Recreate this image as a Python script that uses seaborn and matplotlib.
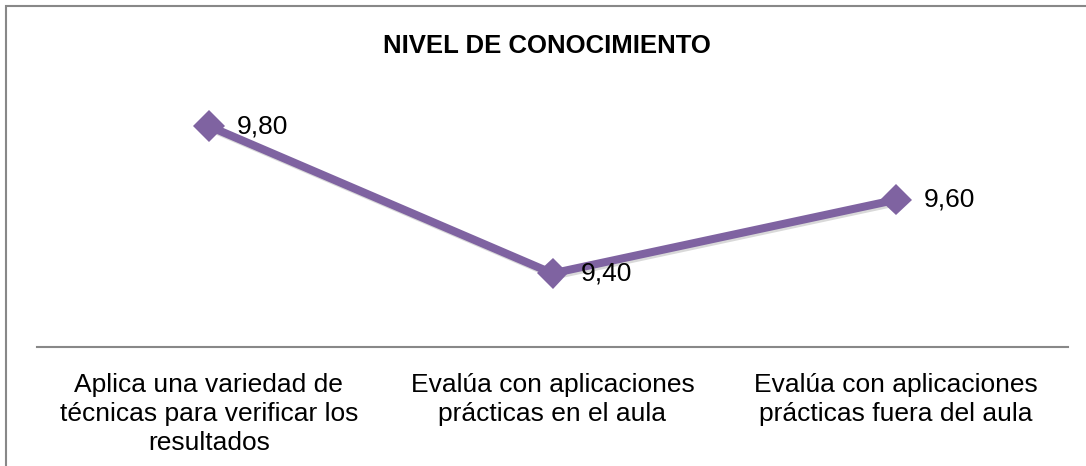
import matplotlib
matplotlib.use("Agg")
import matplotlib.pyplot as plt
import matplotlib.patheffects as pe
from matplotlib.patches import Rectangle
import seaborn as sns

# datos del grafico
categorias = [
    "Aplica una variedad de\ntécnicas para verificar los\nresultados",
    "Evalúa con aplicaciones\nprácticas en el aula",
    "Evalúa con aplicaciones\nprácticas fuera del aula",
]
valores = [9.80, 9.40, 9.60]
titulo = "NIVEL DE CONOCIMIENTO"

sns.set_style("white")
plt.rcParams["font.family"] = ["Liberation Sans", "DejaVu Sans"]
plt.rcParams["text.color"] = "black"
plt.rcParams["xtick.color"] = "black"

fig = plt.figure(figsize=(10.86, 4.66), dpi=100)
ax = fig.add_axes([37 / 1086, 1 - 347 / 466, 1031 / 1086, (347 - 52.5) / 466])

morado = "#7F63A1"
sombra = [pe.SimpleLineShadow(offset=(1.5, -1.5), shadow_color="#000000", alpha=0.15),
          pe.Normal()]
sns.lineplot(x=categorias, y=valores, ax=ax, color=morado, linewidth=5.8,
             marker="D", markersize=16, markeredgewidth=0, sort=False,
             path_effects=sombra)

for i, v in enumerate(valores):
    ax.annotate(f"{v:.2f}".replace(".", ","), xy=(i, v), xytext=(28, 0),
                textcoords="offset pixels", va="center", ha="left",
                fontsize=19, color="black")

ax.set_xlim(-0.5, 2.5)
ax.set_ylim(9.2, 10.0)
ax.set_yticks([])
ax.set_xlabel("")
ax.set_ylabel("")
for lado in ["top", "right", "left"]:
    ax.spines[lado].set_visible(False)
ax.spines["bottom"].set_color("#888888")
ax.spines["bottom"].set_linewidth(1.5)
ax.tick_params(axis="x", length=0, pad=19, labelsize=19, labelcolor="black")
for etiqueta in ax.get_xticklabels():
    etiqueta.set_linespacing(1.24)

fig.text(547 / 1086, 1 - 46 / 466, titulo, ha="center", va="center",
         fontsize=18.5, fontweight="bold", color="black")

# borde del area del grafico
fig.patches.append(Rectangle((6 / 1086, -0.05), 1.2, 1 - 6 / 466 + 0.05,
                             transform=fig.transFigure, fill=False,
                             edgecolor="#888888", linewidth=1.5))

fig.savefig("out.png", dpi=100)
